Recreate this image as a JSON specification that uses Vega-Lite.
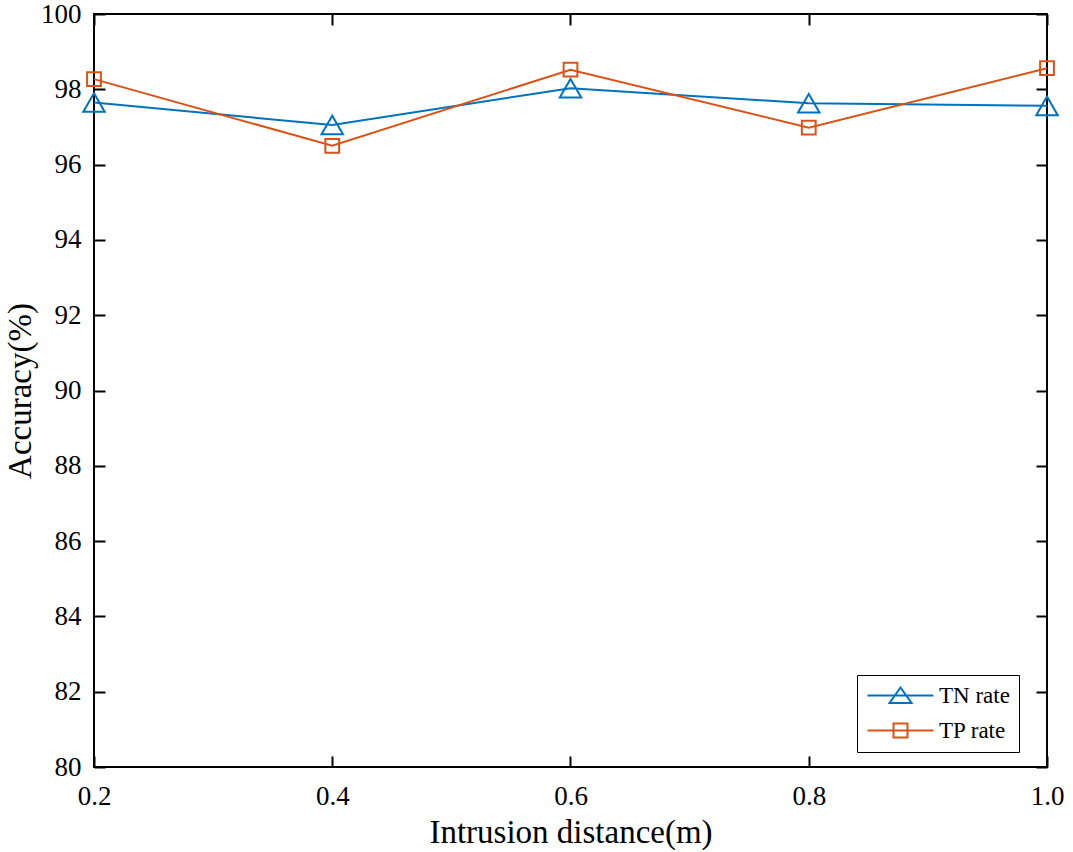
{
  "$schema": "https://vega.github.io/schema/vega-lite/v6.json",
  "width": 953,
  "height": 753,
  "autosize": {"type": "none"},
  "padding": {"left": 94, "top": 14, "right": 26, "bottom": 85},
  "background": "white",
  "config": {
    "view": {"stroke": "black", "strokeWidth": 2},
    "font": "Liberation Serif",
    "axis": {
      "grid": false,
      "domain": false,
      "tickColor": "black",
      "tickWidth": 2,
      "tickSize": -11,
      "labelFont": "Liberation Serif",
      "labelFontSize": 27,
      "labelColor": "black",
      "titleFont": "Liberation Serif",
      "titleFontSize": 33,
      "titleFontWeight": "normal",
      "titleColor": "black"
    }
  },
  "data": {
    "values": [
      {"distance": 0.2, "series": "TN rate", "accuracy": 97.65},
      {"distance": 0.4, "series": "TN rate", "accuracy": 97.05},
      {"distance": 0.6, "series": "TN rate", "accuracy": 98.03},
      {"distance": 0.8, "series": "TN rate", "accuracy": 97.63},
      {"distance": 1.0, "series": "TN rate", "accuracy": 97.56},
      {"distance": 0.2, "series": "TP rate", "accuracy": 98.27},
      {"distance": 0.4, "series": "TP rate", "accuracy": 96.5},
      {"distance": 0.6, "series": "TP rate", "accuracy": 98.52},
      {"distance": 0.8, "series": "TP rate", "accuracy": 96.98},
      {"distance": 1.0, "series": "TP rate", "accuracy": 98.56}
    ]
  },
  "layer": [
    {
      "mark": {"type": "line", "strokeWidth": 2},
      "encoding": {
        "x": {
          "field": "distance", "type": "quantitative",
          "scale": {"domain": [0.2, 1.0], "nice": false, "zero": false},
          "axis": {"orient": "bottom", "values": [0.2, 0.4, 0.6, 0.8, 1.0], "format": ".1f", "labelFont": "Liberation Serif", "labelFontSize": 27, "labelPadding": 27, "title": "Intrusion distance(m)", "titlePadding": 7, "labelFlush": false}
        },
        "y": {
          "field": "accuracy", "type": "quantitative",
          "scale": {"domain": [80, 100], "nice": false, "zero": false},
          "axis": {"orient": "left", "values": [80, 82, 84, 86, 88, 90, 92, 94, 96, 98, 100], "labelFont": "Liberation Serif", "labelFontSize": 27, "labelPadding": 24, "title": "Accuracy(%)", "titlePadding": 3, "labelFlush": false}
        },
        "color": {
          "field": "series", "type": "nominal",
          "scale": {"domain": ["TN rate", "TP rate"], "range": ["#0072BD", "#D95319"]},
          "legend": {
            "title": null,
            "orient": "none",
            "legendX": 763,
            "legendY": 661,
            "strokeColor": "black",
            "fillColor": "white",
            "padding": 9,
            "symbolSize": 400,
            "symbolStrokeWidth": 2,
            "symbolFillColor": "white",
            "labelOffset": 50,
            "labelFont": "Liberation Serif",
            "labelFontSize": 23,
            "labelColor": "black",
            "rowPadding": 11,
            "encode": {
              "symbols": {
                "update": {
                  "shape": {"signal": "datum.value === 'TN rate' ? 'M-1,0H5.6M2.3,-0.8L1.2,0.75L3.4,0.75Z' : 'M-1,0H5.6M1.6,-0.7H3V0.7H1.6Z'"}
                }
              }
            }
          }
        }
      }
    },
    {
      "transform": [{"filter": "datum.series === 'TN rate'"}],
      "mark": {"type": "point", "shape": "triangle-up", "size": 460, "filled": false, "strokeWidth": 2, "opacity": 1},
      "encoding": {
        "x": {
          "field": "distance", "type": "quantitative",
          "scale": {"domain": [0.2, 1.0], "nice": false, "zero": false},
          "axis": {"orient": "top", "values": [0.2, 0.4, 0.6, 0.8, 1.0], "labels": false, "title": null}
        },
        "y": {
          "field": "accuracy", "type": "quantitative",
          "scale": {"domain": [80, 100], "nice": false, "zero": false},
          "axis": {"orient": "right", "values": [80, 82, 84, 86, 88, 90, 92, 94, 96, 98, 100], "labels": false, "title": null}
        },
        "color": {"field": "series", "type": "nominal", "legend": null}
      }
    },
    {
      "transform": [{"filter": "datum.series === 'TP rate'"}],
      "mark": {"type": "point", "shape": "square", "size": 190, "filled": false, "strokeWidth": 2, "opacity": 1},
      "encoding": {
        "x": {"field": "distance", "type": "quantitative", "axis": null},
        "y": {"field": "accuracy", "type": "quantitative", "axis": null},
        "color": {"field": "series", "type": "nominal", "legend": null}
      }
    }
  ],
  "resolve": {"axis": {"x": "independent", "y": "independent"}}
}
